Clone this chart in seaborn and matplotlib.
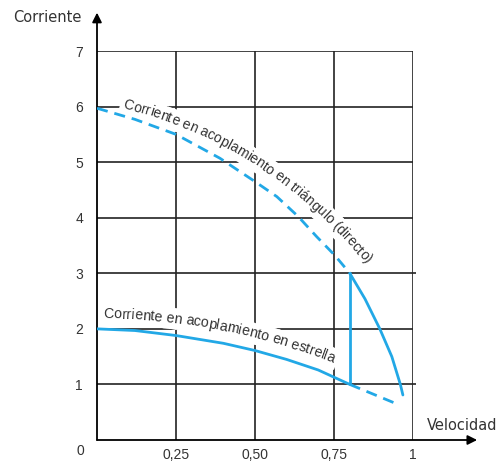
import numpy as np
import matplotlib
matplotlib.use("Agg")
import matplotlib.pyplot as plt
import seaborn as sns
from matplotlib.transforms import IdentityTransform
from matplotlib.font_manager import FontProperties, findfont, get_font

# values
tri_dash_x = [0, 0.12, 0.25, 0.389, 0.5, 0.569, 0.637, 0.695, 0.753, 0.8]
tri_dash_y = [5.97, 5.77, 5.5, 5.07, 4.65, 4.38, 4.02, 3.66, 3.32, 3.0]
tri_solid_x = [0.8, 0.848, 0.895, 0.933, 0.96, 0.968]
tri_solid_y = [3.0, 2.54, 2.0, 1.5, 1.0, 0.81]
star_solid_x = [0, 0.12, 0.25, 0.4, 0.5, 0.6, 0.7, 0.8]
star_solid_y = [2.0, 1.97, 1.88, 1.74, 1.61, 1.45, 1.26, 1.0]
star_dash_x = [0.8, 0.94]
star_dash_y = [1.0, 0.67]
switch_x = [0.8, 0.8]
switch_y = [1.0, 3.0]

x_ticks = [0.25, 0.5, 0.75, 1.0]
x_labels = ["0,25", "0,50", "0,75", "1"]
y_ticks = [1, 2, 3, 4, 5, 6, 7]
label_tri = "Corriente en acoplamiento en triángulo (directo)"
label_star = "Corriente en acoplamiento en estrella"

BLUE = "#22a8e6"
GRID = "#222222"
TXT = "#333333"

sns.set_theme(style="white")
plt.rcParams['font.family'] = ['Liberation Sans', 'DejaVu Sans']

W, H = 501, 462
fig = plt.figure(figsize=(W / 100, H / 100), dpi=100)
ax = fig.add_axes([97 / W, 22 / H, 316 / W, 389 / H])
ax.set_xlim(0, 1)
ax.set_ylim(0, 7)
for s in ax.spines.values():
    s.set_visible(False)

# grid
ax.vlines(x_ticks, 0, 7, color=GRID, lw=1.2, zorder=1)
ax.hlines([2, 4, 5, 6, 7], 0, 1, color=GRID, lw=1.2, zorder=1)
ax.hlines([1, 3], 0, 1.01, color=GRID, lw=1.2, zorder=1, clip_on=False)

# ticks
ax.set_xticks(x_ticks, x_labels)
ax.set_yticks(y_ticks, [str(v) for v in y_ticks])
ax.tick_params(length=0, labelsize=10, labelcolor=TXT)
ax.tick_params(axis="x", pad=6)
ax.tick_params(axis="y", pad=10)
ax.text(-0.052, -0.2, "0", ha="center", va="center", fontsize=10, color=TXT, clip_on=False)

# axes with arrows
arrow = dict(arrowstyle="-|>", color="black", lw=1.3, mutation_scale=14, shrinkA=0, shrinkB=0)
ax.annotate("", xy=(0, 7.69), xytext=(0, 0), arrowprops=arrow, annotation_clip=False)
ax.annotate("", xy=(1.203, 0), xytext=(0, 0), arrowprops=arrow, annotation_clip=False)
fig.text(47 / W, 1 - 17 / H, "Corriente", ha="center", va="center", fontsize=10.5,
         family="DejaVu Sans", color=TXT)
fig.text(427 / W, 1 - 425 / H, "Velocidad", ha="left", va="center", fontsize=10.5,
         family="DejaVu Sans", color=TXT)

# curves
dash = (0, (4, 2.5))
sns.lineplot(x=tri_dash_x, y=tri_dash_y, ax=ax, color=BLUE, lw=2, linestyle=dash,
             sort=False, estimator=None, zorder=4)
sns.lineplot(x=tri_solid_x, y=tri_solid_y, ax=ax, color=BLUE, lw=2,
             sort=False, estimator=None, zorder=4)
sns.lineplot(x=star_solid_x, y=star_solid_y, ax=ax, color=BLUE, lw=2,
             sort=False, estimator=None, zorder=4)
sns.lineplot(x=star_dash_x, y=star_dash_y, ax=ax, color=BLUE, lw=2, linestyle=dash,
             sort=False, estimator=None, zorder=4)
sns.lineplot(x=switch_x, y=switch_y, ax=ax, color=BLUE, lw=2,
             sort=False, estimator=None, zorder=4)


def curve_label(xs, ys, text, x_start, off0, off1, size, deg):
    # glyph advances straight from the font file, in pixels
    font = get_font(findfont(FontProperties(family="Liberation Sans")))
    font.set_size(size, fig.dpi)
    adv = [font.load_char(ord(ch)).linearHoriAdvance / 65536 for ch in text]
    widths = np.concatenate([[0], np.cumsum(adv)])
    total = widths[-1]

    pts = ax.transData.transform(np.column_stack([xs, ys]))
    coef = np.polyfit(pts[:, 0], pts[:, 1], deg)
    x0 = ax.transData.transform((x_start, 0))[0]
    px = np.linspace(x0, pts[-1, 0] + 80, 3000)
    py = np.polyval(coef, px)
    dy = np.polyval(np.polyder(coef), px)
    nrm = np.column_stack([-dy, np.ones_like(dy)]) / np.sqrt(1 + dy ** 2)[:, None]
    sb = np.concatenate([[0], np.cumsum(np.hypot(np.diff(px), np.diff(py)))])
    off = off0 + (off1 - off0) * np.clip(sb / total, 0, 1)
    q = np.column_stack([px, py]) + nrm * off[:, None]
    sq = np.concatenate([[0], np.cumsum(np.hypot(np.diff(q[:, 0]), np.diff(q[:, 1])))])
    gx = np.gradient(q[:, 0])
    gy = np.gradient(q[:, 1])

    for i, ch in enumerate(text):
        c = (widths[i] + widths[i + 1]) / 2
        j = min(np.searchsorted(sq, c), len(sq) - 1)
        ang = np.degrees(np.arctan2(gy[j], gx[j]))
        kw = dict(transform=IdentityTransform(), rotation=ang, rotation_mode="anchor",
                  ha="center", va="baseline", fontsize=size, family="Liberation Sans",
                  clip_on=False)
        # white patch under the letters cuts the grid lines
        ax.text(q[j, 0], q[j, 1], "o" if ch == " " else ch, color="white", zorder=2,
                bbox=dict(fc="white", ec="none", pad=2.5), **kw)
        if ch != " ":
            ax.text(q[j, 0], q[j, 1], ch, color=TXT, zorder=3, **kw)


curve_label(tri_dash_x, tri_dash_y, label_tri, 0.075, 7, 19, 10, 3)
curve_label(star_solid_x, star_solid_y, label_star, 0.02, 11, 13, 10.2, 2)

fig.savefig("out.png", dpi=100)
